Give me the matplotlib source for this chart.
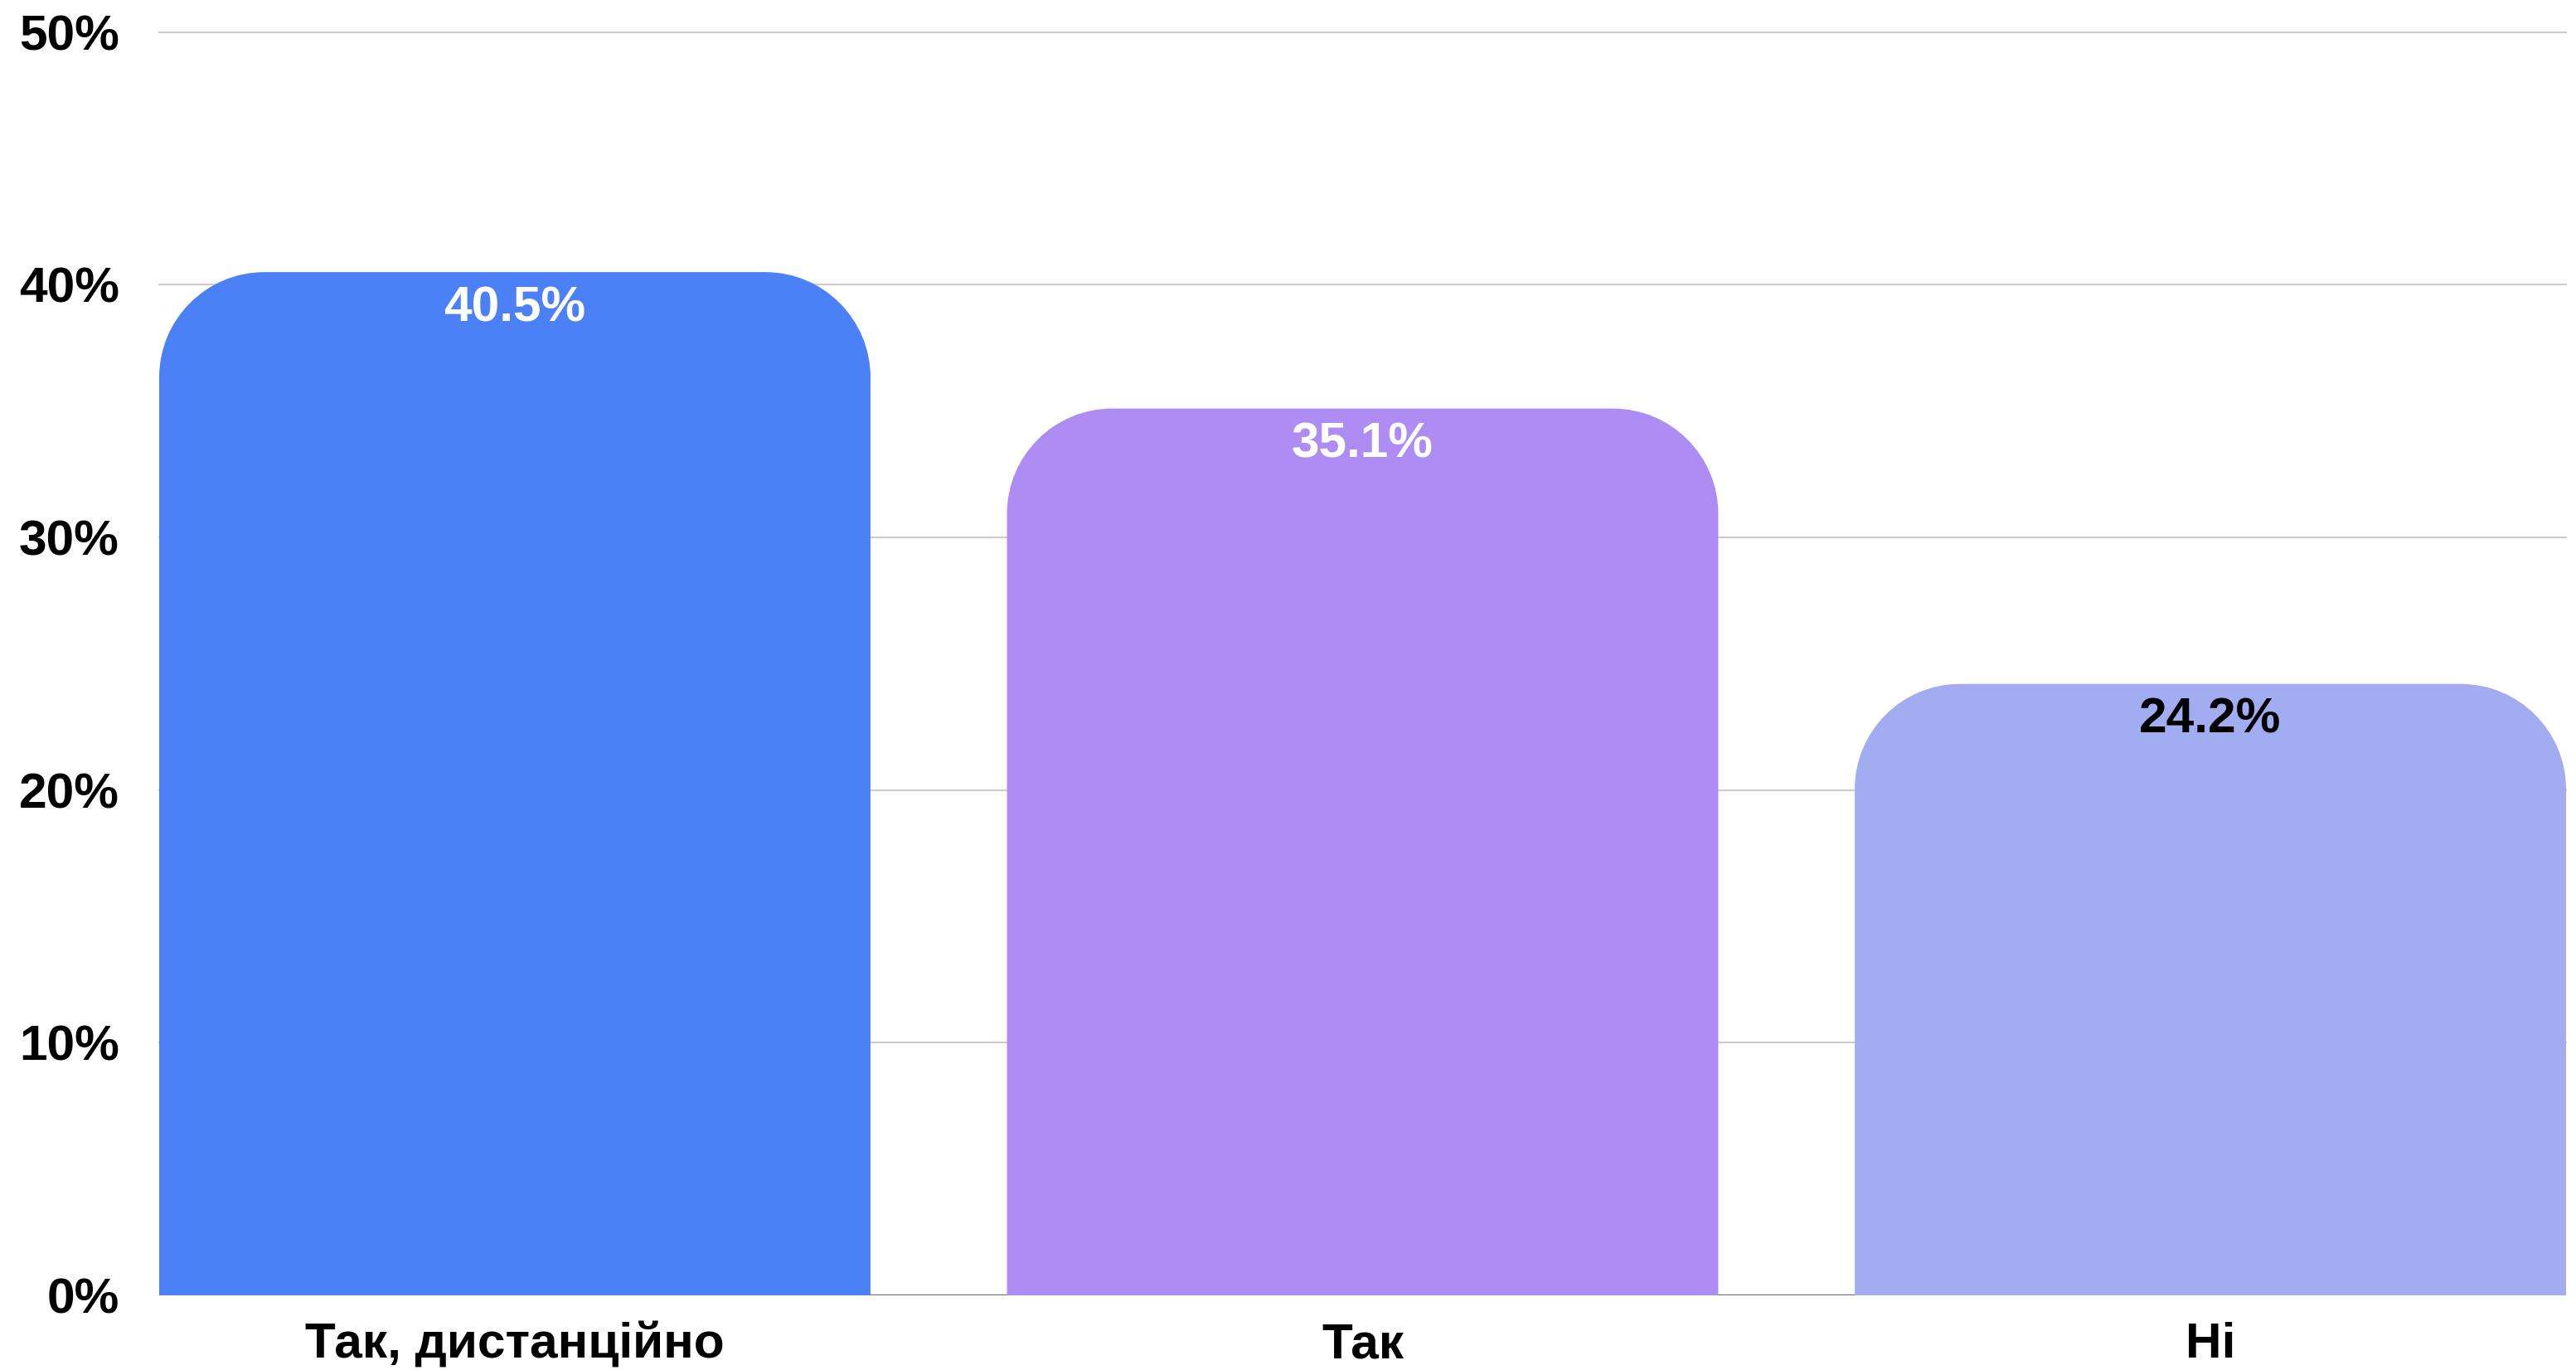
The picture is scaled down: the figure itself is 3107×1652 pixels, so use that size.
import matplotlib
matplotlib.use("Agg")
import matplotlib.pyplot as plt
from matplotlib.path import Path
from matplotlib.patches import PathPatch
import matplotlib.transforms as mtransforms

categories = ["Так, дистанційно", "Так", "Ні"]
values = [40.5, 35.1, 24.2]
value_labels = ["40.5%", "35.1%", "24.2%"]
bar_colors = ["#4C80F6", "#AD8CF3", "#A1ACF1"]
label_colors = ["white", "white", "black"]
y_ticks = [0, 10, 20, 30, 40, 50]
y_tick_labels = ["0%", "10%", "20%", "30%", "40%", "50%"]

plt.rcParams['font.family'] = ['Liberation Sans', 'DejaVu Sans']

W, H, DPI = 3107, 1652, 100
fig = plt.figure(figsize=(W / DPI, H / DPI), dpi=DPI)
left_px, right_px = 192, 3095
bottom_px, top_px = 1562, 38.7
ax = fig.add_axes([left_px / W, (H - bottom_px) / H,
                   (right_px - left_px) / W, (bottom_px - top_px) / H])

bw = 0.839
n = len(categories)
ax.set_xlim(-bw / 2, n - 1 + bw / 2)
ax.set_ylim(0, 50)

for s in ax.spines.values():
    s.set_visible(False)
ax.set_xticks([])
ax.set_yticks([])

# gridlines
for t in y_ticks[1:]:
    ax.axhline(t, color="#CCCCCC", lw=1.6, zorder=0, clip_on=False)
ax.axhline(0, color="#7A7A7A", lw=2.5, zorder=1)

# rounded-top bars
R = 127  # px
ax_w_px = right_px - left_px
ax_h_px = bottom_px - top_px
xr = (n - 1 + bw) / ax_w_px
yr = 50 / ax_h_px
rx = R * xr
ry = R * yr
k = 0.5523
for i, (v, c) in enumerate(zip(values, bar_colors)):
    x0, x1 = i - bw / 2, i + bw / 2
    verts = [
        (x0, 0), (x0, v - ry),
        (x0, v - ry + k * ry), (x0 + rx - k * rx, v), (x0 + rx, v),
        (x1 - rx, v),
        (x1 - rx + k * rx, v), (x1, v - ry + k * ry), (x1, v - ry),
        (x1, 0), (x0, 0),
    ]
    codes = [Path.MOVETO, Path.LINETO,
             Path.CURVE4, Path.CURVE4, Path.CURVE4,
             Path.LINETO,
             Path.CURVE4, Path.CURVE4, Path.CURVE4,
             Path.LINETO, Path.CLOSEPOLY]
    ax.add_patch(PathPatch(Path(verts, codes), facecolor=c, edgecolor="none", zorder=2))

FS = 43.5
# value labels
for i, (v, lab, lc) in enumerate(zip(values, value_labels, label_colors)):
    off = mtransforms.offset_copy(ax.transData, fig=fig, x=0, y=-59 * 72 / DPI, units='points')
    ax.text(i, v, lab, transform=off, ha='center', va='baseline',
            fontsize=FS, fontweight='bold', color=lc, zorder=3)

# category labels
for i, cat in enumerate(categories):
    off = mtransforms.offset_copy(ax.transData, fig=fig, x=0, y=-75 * 72 / DPI, units='points')
    ax.text(i, 0, cat, transform=off, ha='center', va='baseline',
            fontsize=FS, fontweight='bold', color='black', clip_on=False)

# y tick labels
ytrans = mtransforms.blended_transform_factory(ax.transAxes, ax.transData)
for t, lab in zip(y_ticks, y_tick_labels):
    off = mtransforms.offset_copy(ytrans, fig=fig, x=-48 * 72 / DPI, y=-21.5 * 72 / DPI, units='points')
    ax.text(0, t, lab, transform=off, ha='right', va='baseline',
            fontsize=FS, fontweight='bold', color='black', clip_on=False)

fig.savefig("out.png", dpi=DPI, facecolor="white")
